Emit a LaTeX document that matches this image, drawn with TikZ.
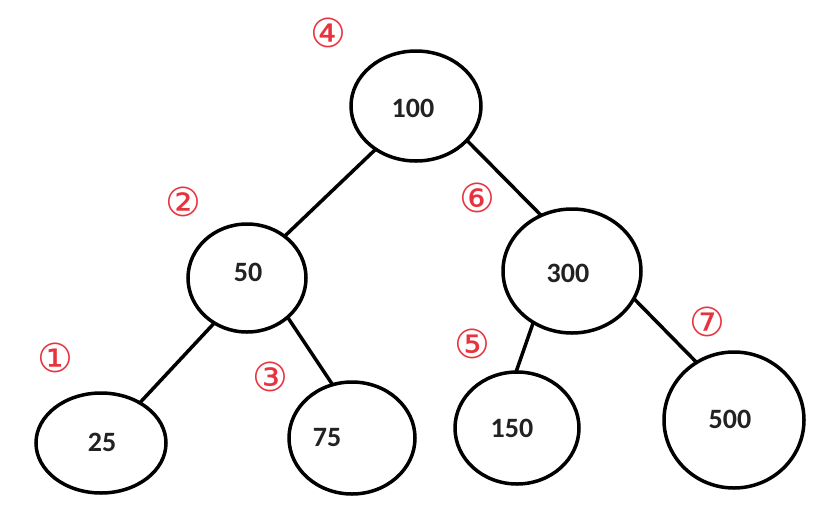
\documentclass[tikz,border=0pt]{standalone}
\usepackage{fontspec}
\setmainfont{Carlito}
\newfontfamily\circfont{DejaVu Sans}
\usetikzlibrary{shapes.geometric}
\definecolor{markred}{HTML}{E8333F}
\definecolor{txt}{HTML}{222222}
\tikzset{
  bnode/.style={draw=black, line width=3.5pt, ellipse, inner sep=0pt, outer sep=0pt},
  val/.style={text=txt, font=\fontsize{28}{28}\selectfont\bfseries, inner sep=0pt},
  stepmark/.style={text=markred, font=\circfont\fontsize{40}{40}\selectfont, inner sep=0pt},
  link/.style={draw=black, line width=3.5pt}
}
\begin{document}
\begin{tikzpicture}[x=1pt, y=-1pt]
\useasboundingbox (0,0) rectangle (828,507);
% tree nodes
\node[bnode, minimum width=130pt, minimum height=110pt] (n100) at (416,106) {};
\node[bnode, minimum width=118pt, minimum height=108pt] (n50) at (247,278) {};
\node[bnode, minimum width=138pt, minimum height=124pt] (n300) at (572,271) {};
\node[bnode, minimum width=130pt, minimum height=100pt] (n25) at (101,443) {};
\node[bnode, minimum width=126pt, minimum height=112pt] (n75) at (352,438) {};
\node[bnode, minimum width=124pt, minimum height=112pt] (n150) at (517,428) {};
\node[bnode, minimum width=140pt, minimum height=136pt] (n500) at (734,420) {};
% values
\node[val] (t100) at (413,108) {100};
\node[val] (t50) at (248,272) {50};
\node[val] (t300) at (568,273) {300};
\node[val] (t25) at (102,442) {25};
\node[val] (t75) at (327,438) {75};
\node[val] (t150) at (512,428) {150};
\node[val] (t500) at (730,419) {500};
% links
\draw[link] (n100.227) -- (n50.48);
\draw[link] (n100.326) -- (n300.119);
\draw[link] (n50.234) -- (n25.46);
\draw[link] (n50.316) -- (n75.110);
\draw[link] (n300.233) -- (n150.91);
\draw[link] (n300.336) -- (n500.123);
% step marks
\node[stepmark] (m1) at (55,358) {①};
\node[stepmark] (m2) at (183,202) {②};
\node[stepmark] (m3) at (270,377) {③};
\node[stepmark] (m4) at (328,33) {④};
\node[stepmark] (m5) at (472,344) {⑤};
\node[stepmark] (m6) at (477,198) {⑥};
\node[stepmark] (m7) at (707,322) {⑦};
\end{tikzpicture}
\end{document}
